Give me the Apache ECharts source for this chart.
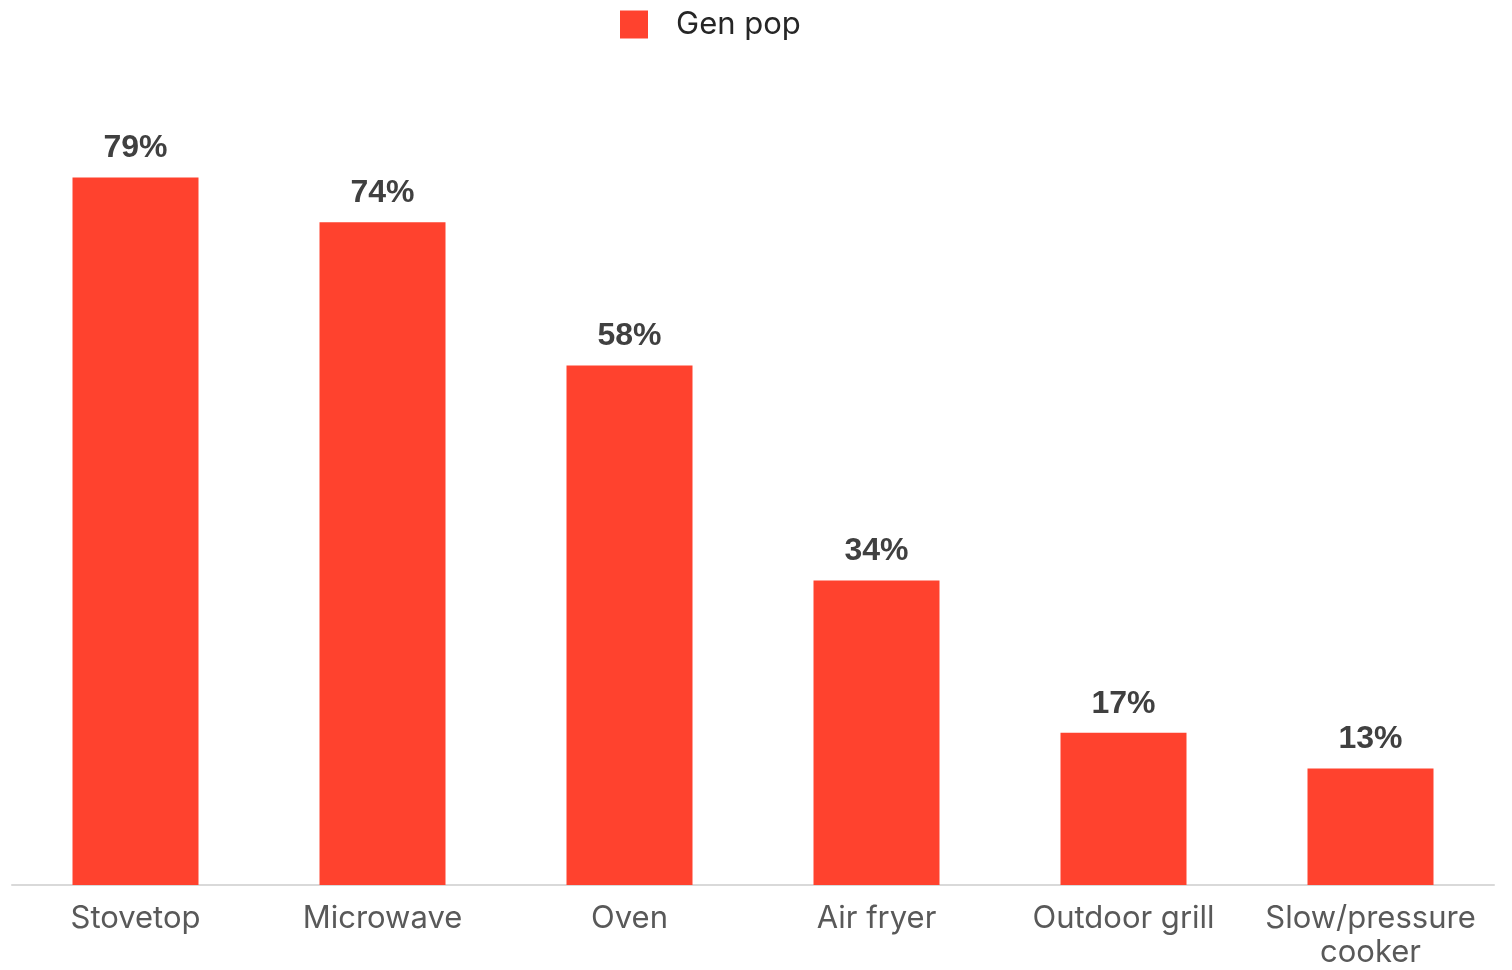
<!DOCTYPE html>
<html>
<head>
<meta charset="utf-8">
<script src="https://cdn.jsdelivr.net/npm/echarts@6/dist/echarts.min.js"></script>
<style>html,body{margin:0;padding:0;background:#fff;}#c{width:1512px;height:970px;}</style>
</head>
<body>
<div id="c"></div>
<script>
const categories = ['Stovetop', 'Microwave', 'Oven', 'Air fryer', 'Outdoor grill', 'Slow/pressure\ncooker'];
const seriesName = 'Gen pop';
const values = [79, 74, 58, 34, 17, 13];

const chart = echarts.init(document.getElementById('c'), null, {renderer: 'canvas'});
const FONT = '"Liberation Sans", Arial, sans-serif';
const FONT2 = 'Inter, "Liberation Sans", sans-serif';
chart.setOption({
  animation: false,
  backgroundColor: '#ffffff',
  legend: {
    left: 615, top: 4,
    itemWidth: 28, itemHeight: 28,
    icon: 'rect',
    textStyle: {fontFamily: FONT2, fontSize: 31, color: '#262626', padding: [0,0,0,23]},
    data: [seriesName]
  },
  grid: {left: 12, right: 18, top: 79, bottom: 81, containLabel: false},
  xAxis: {
    type: 'category',
    data: categories,
    axisLine: {lineStyle: {color: '#d9d9d9', width: 2}},
    axisTick: {show: false},
    axisLabel: {fontFamily: FONT2, fontSize: 31, color: '#595959', margin: 17, lineHeight: 34, interval: 0}
  },
  yAxis: {
    type: 'value', min: 0, max: 90,
    show: false,
    splitLine: {show: false}
  },
  series: [{
    name: seriesName,
    type: 'bar',
    data: values,
    barWidth: 126,
    itemStyle: {color: '#FF422E'},
    label: {
      show: true, position: 'top', distance: 13,
      formatter: '{c}%',
      fontFamily: FONT, fontSize: 32, fontWeight: 'bold', color: '#404040'
    }
  }]
});
</script>
</body>
</html>
